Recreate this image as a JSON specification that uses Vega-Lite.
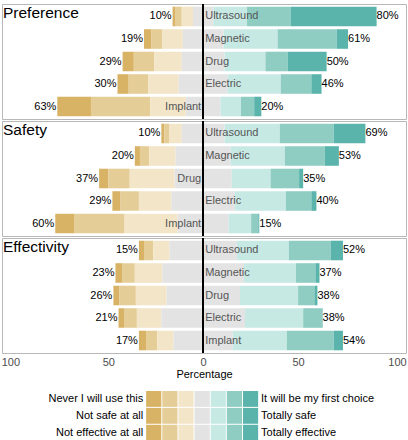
{
  "$schema": "https://vega.github.io/schema/vega-lite/v6.json",
  "padding": {"left": 0, "right": 2, "top": 2, "bottom": 0},
  "spacing": 2,
  "bounds": "flush",
  "config": {
    "font": "Liberation Sans",
    "view": {"stroke": "#b8b8b8", "strokeWidth": 1},
    "concat": {"spacing": 2}
  },
  "datasets": {
    "likert": [
      {"measure": "Preference", "item": "Ultrasound", "level": 1, "pct": 1.5},
      {"measure": "Preference", "item": "Ultrasound", "level": 2, "pct": 3},
      {"measure": "Preference", "item": "Ultrasound", "level": 3, "pct": 5.5},
      {"measure": "Preference", "item": "Ultrasound", "level": 4, "pct": 10},
      {"measure": "Preference", "item": "Ultrasound", "level": 5, "pct": 16.5},
      {"measure": "Preference", "item": "Ultrasound", "level": 6, "pct": 21.5},
      {"measure": "Preference", "item": "Ultrasound", "level": 7, "pct": 42},
      {"measure": "Preference", "item": "Magnetic", "level": 1, "pct": 3.5},
      {"measure": "Preference", "item": "Magnetic", "level": 2, "pct": 5.5},
      {"measure": "Preference", "item": "Magnetic", "level": 3, "pct": 10},
      {"measure": "Preference", "item": "Magnetic", "level": 4, "pct": 20},
      {"measure": "Preference", "item": "Magnetic", "level": 5, "pct": 26.5},
      {"measure": "Preference", "item": "Magnetic", "level": 6, "pct": 29},
      {"measure": "Preference", "item": "Magnetic", "level": 7, "pct": 5.5},
      {"measure": "Preference", "item": "Drug", "level": 1, "pct": 5.5},
      {"measure": "Preference", "item": "Drug", "level": 2, "pct": 10},
      {"measure": "Preference", "item": "Drug", "level": 3, "pct": 13.5},
      {"measure": "Preference", "item": "Drug", "level": 4, "pct": 21},
      {"measure": "Preference", "item": "Drug", "level": 5, "pct": 20},
      {"measure": "Preference", "item": "Drug", "level": 6, "pct": 11},
      {"measure": "Preference", "item": "Drug", "level": 7, "pct": 19},
      {"measure": "Preference", "item": "Electric", "level": 1, "pct": 5.5},
      {"measure": "Preference", "item": "Electric", "level": 2, "pct": 9.5},
      {"measure": "Preference", "item": "Electric", "level": 3, "pct": 15},
      {"measure": "Preference", "item": "Electric", "level": 4, "pct": 24},
      {"measure": "Preference", "item": "Electric", "level": 5, "pct": 26},
      {"measure": "Preference", "item": "Electric", "level": 6, "pct": 15},
      {"measure": "Preference", "item": "Electric", "level": 7, "pct": 5},
      {"measure": "Preference", "item": "Implant", "level": 1, "pct": 16.5},
      {"measure": "Preference", "item": "Implant", "level": 2, "pct": 29},
      {"measure": "Preference", "item": "Implant", "level": 3, "pct": 17.5},
      {"measure": "Preference", "item": "Implant", "level": 4, "pct": 17},
      {"measure": "Preference", "item": "Implant", "level": 5, "pct": 10},
      {"measure": "Preference", "item": "Implant", "level": 6, "pct": 6.5},
      {"measure": "Preference", "item": "Implant", "level": 7, "pct": 3.5},
      {"measure": "Safety", "item": "Ultrasound", "level": 1, "pct": 1.5},
      {"measure": "Safety", "item": "Ultrasound", "level": 2, "pct": 2.5},
      {"measure": "Safety", "item": "Ultrasound", "level": 3, "pct": 6},
      {"measure": "Safety", "item": "Ultrasound", "level": 4, "pct": 21},
      {"measure": "Safety", "item": "Ultrasound", "level": 5, "pct": 27},
      {"measure": "Safety", "item": "Ultrasound", "level": 6, "pct": 26.5},
      {"measure": "Safety", "item": "Ultrasound", "level": 7, "pct": 15.5},
      {"measure": "Safety", "item": "Magnetic", "level": 1, "pct": 2.5},
      {"measure": "Safety", "item": "Magnetic", "level": 2, "pct": 4.5},
      {"measure": "Safety", "item": "Magnetic", "level": 3, "pct": 13},
      {"measure": "Safety", "item": "Magnetic", "level": 4, "pct": 27},
      {"measure": "Safety", "item": "Magnetic", "level": 5, "pct": 26.5},
      {"measure": "Safety", "item": "Magnetic", "level": 6, "pct": 19.5},
      {"measure": "Safety", "item": "Magnetic", "level": 7, "pct": 7},
      {"measure": "Safety", "item": "Drug", "level": 1, "pct": 4.5},
      {"measure": "Safety", "item": "Drug", "level": 2, "pct": 10.5},
      {"measure": "Safety", "item": "Drug", "level": 3, "pct": 22},
      {"measure": "Safety", "item": "Drug", "level": 4, "pct": 28},
      {"measure": "Safety", "item": "Drug", "level": 5, "pct": 19},
      {"measure": "Safety", "item": "Drug", "level": 6, "pct": 14},
      {"measure": "Safety", "item": "Drug", "level": 7, "pct": 2},
      {"measure": "Safety", "item": "Electric", "level": 1, "pct": 4},
      {"measure": "Safety", "item": "Electric", "level": 2, "pct": 9},
      {"measure": "Safety", "item": "Electric", "level": 3, "pct": 16},
      {"measure": "Safety", "item": "Electric", "level": 4, "pct": 31},
      {"measure": "Safety", "item": "Electric", "level": 5, "pct": 25},
      {"measure": "Safety", "item": "Electric", "level": 6, "pct": 12.5},
      {"measure": "Safety", "item": "Electric", "level": 7, "pct": 2.5},
      {"measure": "Safety", "item": "Implant", "level": 1, "pct": 9.5},
      {"measure": "Safety", "item": "Implant", "level": 2, "pct": 24.5},
      {"measure": "Safety", "item": "Implant", "level": 3, "pct": 26},
      {"measure": "Safety", "item": "Implant", "level": 4, "pct": 25},
      {"measure": "Safety", "item": "Implant", "level": 5, "pct": 11},
      {"measure": "Safety", "item": "Implant", "level": 6, "pct": 3.5},
      {"measure": "Safety", "item": "Implant", "level": 7, "pct": 0.5},
      {"measure": "Effectivity", "item": "Ultrasound", "level": 1, "pct": 2.5},
      {"measure": "Effectivity", "item": "Ultrasound", "level": 2, "pct": 4.5},
      {"measure": "Effectivity", "item": "Ultrasound", "level": 3, "pct": 8},
      {"measure": "Effectivity", "item": "Ultrasound", "level": 4, "pct": 33},
      {"measure": "Effectivity", "item": "Ultrasound", "level": 5, "pct": 25.5},
      {"measure": "Effectivity", "item": "Ultrasound", "level": 6, "pct": 20.5},
      {"measure": "Effectivity", "item": "Ultrasound", "level": 7, "pct": 6},
      {"measure": "Effectivity", "item": "Magnetic", "level": 1, "pct": 3.5},
      {"measure": "Effectivity", "item": "Magnetic", "level": 2, "pct": 6},
      {"measure": "Effectivity", "item": "Magnetic", "level": 3, "pct": 13.5},
      {"measure": "Effectivity", "item": "Magnetic", "level": 4, "pct": 40},
      {"measure": "Effectivity", "item": "Magnetic", "level": 5, "pct": 25.5},
      {"measure": "Effectivity", "item": "Magnetic", "level": 6, "pct": 9.5},
      {"measure": "Effectivity", "item": "Magnetic", "level": 7, "pct": 2},
      {"measure": "Effectivity", "item": "Drug", "level": 1, "pct": 3},
      {"measure": "Effectivity", "item": "Drug", "level": 2, "pct": 8},
      {"measure": "Effectivity", "item": "Drug", "level": 3, "pct": 15},
      {"measure": "Effectivity", "item": "Drug", "level": 4, "pct": 36},
      {"measure": "Effectivity", "item": "Drug", "level": 5, "pct": 28.5},
      {"measure": "Effectivity", "item": "Drug", "level": 6, "pct": 8},
      {"measure": "Effectivity", "item": "Drug", "level": 7, "pct": 1.5},
      {"measure": "Effectivity", "item": "Electric", "level": 1, "pct": 3},
      {"measure": "Effectivity", "item": "Electric", "level": 2, "pct": 6},
      {"measure": "Effectivity", "item": "Electric", "level": 3, "pct": 12},
      {"measure": "Effectivity", "item": "Electric", "level": 4, "pct": 41},
      {"measure": "Effectivity", "item": "Electric", "level": 5, "pct": 28.5},
      {"measure": "Effectivity", "item": "Electric", "level": 6, "pct": 9},
      {"measure": "Effectivity", "item": "Electric", "level": 7, "pct": 0.5},
      {"measure": "Effectivity", "item": "Implant", "level": 1, "pct": 3.5},
      {"measure": "Effectivity", "item": "Implant", "level": 2, "pct": 5.5},
      {"measure": "Effectivity", "item": "Implant", "level": 3, "pct": 8},
      {"measure": "Effectivity", "item": "Implant", "level": 4, "pct": 29},
      {"measure": "Effectivity", "item": "Implant", "level": 5, "pct": 26.5},
      {"measure": "Effectivity", "item": "Implant", "level": 6, "pct": 23},
      {"measure": "Effectivity", "item": "Implant", "level": 7, "pct": 4.5}
    ],
    "legendText": [
      {"measure": "Preference", "low": "Never I will use this", "high": "It will be my first choice"},
      {"measure": "Safety", "low": "Not safe at all", "high": "Totally safe"},
      {"measure": "Effectivity", "low": "Not effective at all", "high": "Totally effective"}
    ]
  },
  "vconcat": [
    {
      "width": 404, "height": 115,
      "data": {"name": "likert"},
      "transform": [
        {"filter": "datum.measure == 'Preference'"},
        {"window": [{"op": "sum", "field": "pct", "as": "cum"}], "sort": [{"field": "level"}], "groupby": ["item"], "frame": [null, 0]},
        {"calculate": "datum.level < 4 ? datum.pct : (datum.level == 4 ? datum.pct / 2 : 0)", "as": "lowpart"},
        {"calculate": "datum.level < 4 ? datum.pct : 0", "as": "negpart"},
        {"calculate": "datum.level > 4 ? datum.pct : 0", "as": "pospart"},
        {"joinaggregate": [{"op": "sum", "field": "lowpart", "as": "offset"}, {"op": "sum", "field": "negpart", "as": "neg"}, {"op": "sum", "field": "pospart", "as": "pos"}], "groupby": ["item"]},
        {"calculate": "datum.cum - datum.pct - datum.offset", "as": "x0"},
        {"calculate": "datum.cum - datum.offset", "as": "x1"},
        {"calculate": "format(datum.neg, '.0f') + '%'", "as": "negLabel"},
        {"calculate": "format(datum.pos, '.0f') + '%'", "as": "posLabel"}
      ],
      "layer": [
        {
          "mark": {"type": "bar"},
          "encoding": {
            "x": {"field": "x0", "type": "quantitative", "scale": {"domain": [-98.6, 99.4], "nice": false, "zero": false}, "axis": null},
            "x2": {"field": "x1"},
            "y": {"field": "item", "type": "nominal", "sort": ["Ultrasound", "Magnetic", "Drug", "Electric", "Implant"], "axis": null, "scale": {"paddingInner": 0.13, "paddingOuter": 0.12}},
            "color": {"field": "level", "type": "ordinal", "scale": {"domain": [1, 2, 3, 4, 5, 6, 7], "range": ["#d8b365", "#e5cd97", "#f3e5c8", "#e3e3e3", "#c7e9e4", "#8fcdc3", "#5ab4ac"]}, "legend": null}
          }
        },
        {"mark": {"type": "rule", "color": "black", "strokeWidth": 1.5}, "encoding": {"x": {"datum": 0}}},
        {
          "transform": [{"filter": "datum.level == 1"}],
          "mark": {"type": "text", "align": "right", "baseline": "middle", "dx": -1, "fontSize": 11, "color": "black"},
          "encoding": {"x": {"field": "x0", "type": "quantitative"}, "y": {"field": "item", "type": "nominal", "sort": ["Ultrasound", "Magnetic", "Drug", "Electric", "Implant"]}, "text": {"field": "negLabel"}}
        },
        {
          "transform": [{"filter": "datum.level == 7"}],
          "mark": {"type": "text", "align": "left", "baseline": "middle", "dx": 0, "fontSize": 11, "color": "black"},
          "encoding": {"x": {"field": "x1", "type": "quantitative"}, "y": {"field": "item", "type": "nominal", "sort": ["Ultrasound", "Magnetic", "Drug", "Electric", "Implant"]}, "text": {"field": "posLabel"}}
        },
        {
          "transform": [{"filter": "datum.level == 4 && datum.neg <= datum.pos"}],
          "mark": {"type": "text", "align": "left", "baseline": "middle", "dx": 2, "fontSize": 11, "color": "#555555"},
          "encoding": {"x": {"datum": 0}, "y": {"field": "item", "type": "nominal", "sort": ["Ultrasound", "Magnetic", "Drug", "Electric", "Implant"]}, "text": {"field": "item"}}
        },
        {
          "transform": [{"filter": "datum.level == 4 && datum.neg > datum.pos"}],
          "mark": {"type": "text", "align": "right", "baseline": "middle", "dx": -2, "fontSize": 11, "color": "#555555"},
          "encoding": {"x": {"datum": 0}, "y": {"field": "item", "type": "nominal", "sort": ["Ultrasound", "Magnetic", "Drug", "Electric", "Implant"]}, "text": {"field": "item"}}
        },
        {
          "transform": [{"filter": "datum.level == 4 && datum.item == 'Ultrasound'"}],
          "mark": {"type": "text", "align": "left", "baseline": "middle", "dx": 1, "dy": -3, "fontSize": 15.5, "color": "black"},
          "encoding": {"x": {"datum": -98.6}, "y": {"field": "item", "type": "nominal", "sort": ["Ultrasound", "Magnetic", "Drug", "Electric", "Implant"]}, "text": {"field": "measure"}}
        }
      ]
    },
    {
      "width": 404, "height": 115,
      "data": {"name": "likert"},
      "transform": [
        {"filter": "datum.measure == 'Safety'"},
        {"window": [{"op": "sum", "field": "pct", "as": "cum"}], "sort": [{"field": "level"}], "groupby": ["item"], "frame": [null, 0]},
        {"calculate": "datum.level < 4 ? datum.pct : (datum.level == 4 ? datum.pct / 2 : 0)", "as": "lowpart"},
        {"calculate": "datum.level < 4 ? datum.pct : 0", "as": "negpart"},
        {"calculate": "datum.level > 4 ? datum.pct : 0", "as": "pospart"},
        {"joinaggregate": [{"op": "sum", "field": "lowpart", "as": "offset"}, {"op": "sum", "field": "negpart", "as": "neg"}, {"op": "sum", "field": "pospart", "as": "pos"}], "groupby": ["item"]},
        {"calculate": "datum.cum - datum.pct - datum.offset", "as": "x0"},
        {"calculate": "datum.cum - datum.offset", "as": "x1"},
        {"calculate": "format(datum.neg, '.0f') + '%'", "as": "negLabel"},
        {"calculate": "format(datum.pos, '.0f') + '%'", "as": "posLabel"}
      ],
      "layer": [
        {
          "mark": {"type": "bar"},
          "encoding": {
            "x": {"field": "x0", "type": "quantitative", "scale": {"domain": [-98.6, 99.4], "nice": false, "zero": false}, "axis": null},
            "x2": {"field": "x1"},
            "y": {"field": "item", "type": "nominal", "sort": ["Ultrasound", "Magnetic", "Drug", "Electric", "Implant"], "axis": null, "scale": {"paddingInner": 0.13, "paddingOuter": 0.12}},
            "color": {"field": "level", "type": "ordinal", "scale": {"domain": [1, 2, 3, 4, 5, 6, 7], "range": ["#d8b365", "#e5cd97", "#f3e5c8", "#e3e3e3", "#c7e9e4", "#8fcdc3", "#5ab4ac"]}, "legend": null}
          }
        },
        {"mark": {"type": "rule", "color": "black", "strokeWidth": 1.5}, "encoding": {"x": {"datum": 0}}},
        {
          "transform": [{"filter": "datum.level == 1"}],
          "mark": {"type": "text", "align": "right", "baseline": "middle", "dx": -1, "fontSize": 11, "color": "black"},
          "encoding": {"x": {"field": "x0", "type": "quantitative"}, "y": {"field": "item", "type": "nominal", "sort": ["Ultrasound", "Magnetic", "Drug", "Electric", "Implant"]}, "text": {"field": "negLabel"}}
        },
        {
          "transform": [{"filter": "datum.level == 7"}],
          "mark": {"type": "text", "align": "left", "baseline": "middle", "dx": 0, "fontSize": 11, "color": "black"},
          "encoding": {"x": {"field": "x1", "type": "quantitative"}, "y": {"field": "item", "type": "nominal", "sort": ["Ultrasound", "Magnetic", "Drug", "Electric", "Implant"]}, "text": {"field": "posLabel"}}
        },
        {
          "transform": [{"filter": "datum.level == 4 && datum.neg <= datum.pos"}],
          "mark": {"type": "text", "align": "left", "baseline": "middle", "dx": 2, "fontSize": 11, "color": "#555555"},
          "encoding": {"x": {"datum": 0}, "y": {"field": "item", "type": "nominal", "sort": ["Ultrasound", "Magnetic", "Drug", "Electric", "Implant"]}, "text": {"field": "item"}}
        },
        {
          "transform": [{"filter": "datum.level == 4 && datum.neg > datum.pos"}],
          "mark": {"type": "text", "align": "right", "baseline": "middle", "dx": -2, "fontSize": 11, "color": "#555555"},
          "encoding": {"x": {"datum": 0}, "y": {"field": "item", "type": "nominal", "sort": ["Ultrasound", "Magnetic", "Drug", "Electric", "Implant"]}, "text": {"field": "item"}}
        },
        {
          "transform": [{"filter": "datum.level == 4 && datum.item == 'Ultrasound'"}],
          "mark": {"type": "text", "align": "left", "baseline": "middle", "dx": 1, "dy": -3, "fontSize": 15.5, "color": "black"},
          "encoding": {"x": {"datum": -98.6}, "y": {"field": "item", "type": "nominal", "sort": ["Ultrasound", "Magnetic", "Drug", "Electric", "Implant"]}, "text": {"field": "measure"}}
        }
      ]
    },
    {
      "width": 404, "height": 115,
      "data": {"name": "likert"},
      "transform": [
        {"filter": "datum.measure == 'Effectivity'"},
        {"window": [{"op": "sum", "field": "pct", "as": "cum"}], "sort": [{"field": "level"}], "groupby": ["item"], "frame": [null, 0]},
        {"calculate": "datum.level < 4 ? datum.pct : (datum.level == 4 ? datum.pct / 2 : 0)", "as": "lowpart"},
        {"calculate": "datum.level < 4 ? datum.pct : 0", "as": "negpart"},
        {"calculate": "datum.level > 4 ? datum.pct : 0", "as": "pospart"},
        {"joinaggregate": [{"op": "sum", "field": "lowpart", "as": "offset"}, {"op": "sum", "field": "negpart", "as": "neg"}, {"op": "sum", "field": "pospart", "as": "pos"}], "groupby": ["item"]},
        {"calculate": "datum.cum - datum.pct - datum.offset", "as": "x0"},
        {"calculate": "datum.cum - datum.offset", "as": "x1"},
        {"calculate": "format(datum.neg, '.0f') + '%'", "as": "negLabel"},
        {"calculate": "format(datum.pos, '.0f') + '%'", "as": "posLabel"}
      ],
      "layer": [
        {
          "mark": {"type": "bar"},
          "encoding": {
            "x": {"field": "x0", "type": "quantitative", "scale": {"domain": [-98.6, 99.4], "nice": false, "zero": false},
              "axis": {"values": [-94.5, -46.5, 0, 46.5, 95], "labelExpr": "datum.value == 0 ? '0' : (abs(datum.value) > 70 ? '100' : '50')", "ticks": false, "domain": false, "grid": false, "labelFlush": false, "labelOverlap": false, "labelColor": "#4d4d4d", "labelFontSize": 11, "labelPadding": 3, "title": "Percentage", "titleFontSize": 11, "titleFontWeight": "normal", "titleColor": "black", "titlePadding": 1}},
            "x2": {"field": "x1"},
            "y": {"field": "item", "type": "nominal", "sort": ["Ultrasound", "Magnetic", "Drug", "Electric", "Implant"], "axis": null, "scale": {"paddingInner": 0.13, "paddingOuter": 0.12}},
            "color": {"field": "level", "type": "ordinal", "scale": {"domain": [1, 2, 3, 4, 5, 6, 7], "range": ["#d8b365", "#e5cd97", "#f3e5c8", "#e3e3e3", "#c7e9e4", "#8fcdc3", "#5ab4ac"]}, "legend": null}
          }
        },
        {"mark": {"type": "rule", "color": "black", "strokeWidth": 1.5}, "encoding": {"x": {"datum": 0}}},
        {
          "transform": [{"filter": "datum.level == 1"}],
          "mark": {"type": "text", "align": "right", "baseline": "middle", "dx": -1, "fontSize": 11, "color": "black"},
          "encoding": {"x": {"field": "x0", "type": "quantitative"}, "y": {"field": "item", "type": "nominal", "sort": ["Ultrasound", "Magnetic", "Drug", "Electric", "Implant"]}, "text": {"field": "negLabel"}}
        },
        {
          "transform": [{"filter": "datum.level == 7"}],
          "mark": {"type": "text", "align": "left", "baseline": "middle", "dx": 0, "fontSize": 11, "color": "black"},
          "encoding": {"x": {"field": "x1", "type": "quantitative"}, "y": {"field": "item", "type": "nominal", "sort": ["Ultrasound", "Magnetic", "Drug", "Electric", "Implant"]}, "text": {"field": "posLabel"}}
        },
        {
          "transform": [{"filter": "datum.level == 4 && datum.neg <= datum.pos"}],
          "mark": {"type": "text", "align": "left", "baseline": "middle", "dx": 2, "fontSize": 11, "color": "#555555"},
          "encoding": {"x": {"datum": 0}, "y": {"field": "item", "type": "nominal", "sort": ["Ultrasound", "Magnetic", "Drug", "Electric", "Implant"]}, "text": {"field": "item"}}
        },
        {
          "transform": [{"filter": "datum.level == 4 && datum.neg > datum.pos"}],
          "mark": {"type": "text", "align": "right", "baseline": "middle", "dx": -2, "fontSize": 11, "color": "#555555"},
          "encoding": {"x": {"datum": 0}, "y": {"field": "item", "type": "nominal", "sort": ["Ultrasound", "Magnetic", "Drug", "Electric", "Implant"]}, "text": {"field": "item"}}
        },
        {
          "transform": [{"filter": "datum.level == 4 && datum.item == 'Ultrasound'"}],
          "mark": {"type": "text", "align": "left", "baseline": "middle", "dx": 1, "dy": -3, "fontSize": 15.5, "color": "black"},
          "encoding": {"x": {"datum": -98.6}, "y": {"field": "item", "type": "nominal", "sort": ["Ultrasound", "Magnetic", "Drug", "Electric", "Implant"]}, "text": {"field": "measure"}}
        }
      ]
    },
    {
      "width": 404, "height": 86,
      "view": {"stroke": null},
      "data": {"name": "likert"},
      "transform": [
        {"filter": "datum.item == 'Ultrasound'"},
        {"lookup": "measure", "from": {"data": {"name": "legendText"}, "key": "measure", "fields": ["low", "high"]}},
        {"calculate": "datum.level - 0.47", "as": "lo"},
        {"calculate": "datum.level + 0.47", "as": "hi"},
        {"calculate": "indexof(['Preference', 'Safety', 'Effectivity'], datum.measure)", "as": "row"},
        {"calculate": "datum.row - 0.47", "as": "rlo"},
        {"calculate": "datum.row + 0.47", "as": "rhi"}
      ],
      "layer": [
        {
          "mark": {"type": "rect"},
          "encoding": {
            "x": {"field": "lo", "type": "quantitative", "axis": null, "scale": {"domain": [-8.4, 16.63], "nice": false, "zero": false}},
            "x2": {"field": "hi"},
            "y": {"field": "rlo", "type": "quantitative", "axis": null, "scale": {"domain": [-2.6, 2.49], "nice": false, "zero": false, "reverse": true}},
            "y2": {"field": "rhi"},
            "color": {"field": "level", "type": "ordinal", "scale": {"domain": [1, 2, 3, 4, 5, 6, 7], "range": ["#d8b365", "#e5cd97", "#f3e5c8", "#e3e3e3", "#c7e9e4", "#8fcdc3", "#5ab4ac"]}, "legend": null}
          }
        },
        {
          "transform": [{"filter": "datum.level == 1"}],
          "mark": {"type": "text", "align": "right", "baseline": "middle", "dx": -10.5, "fontSize": 11, "color": "black"},
          "encoding": {"x": {"field": "level", "type": "quantitative"}, "y": {"field": "row", "type": "quantitative"}, "text": {"field": "low"}}
        },
        {
          "transform": [{"filter": "datum.level == 7"}],
          "mark": {"type": "text", "align": "left", "baseline": "middle", "dx": 10.5, "fontSize": 11, "color": "black"},
          "encoding": {"x": {"field": "level", "type": "quantitative"}, "y": {"field": "row", "type": "quantitative"}, "text": {"field": "high"}}
        }
      ]
    }
  ]
}
